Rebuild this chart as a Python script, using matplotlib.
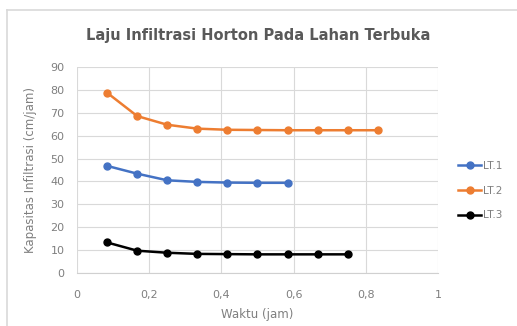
import numpy as np
import matplotlib.pyplot as plt
from matplotlib.ticker import FuncFormatter

# waktu (jam) dan kapasitas infiltrasi (cm/jam) tiap titik uji
waktu = [1/12, 2/12, 3/12, 4/12, 5/12, 6/12, 7/12, 8/12, 9/12, 10/12]
lt1 = [46.8, 43.4, 40.5, 39.8, 39.5, 39.4, 39.4]
lt2 = [78.8, 68.6, 64.8, 63.1, 62.6, 62.5, 62.4, 62.4, 62.4, 62.4]
lt3 = [13.3, 9.7, 8.8, 8.3, 8.2, 8.1, 8.1, 8.1, 8.1]
labels = ['LT.1', 'LT.2', 'LT.3']

fig = plt.figure(figsize=(5.17, 3.26), dpi=100)
ax = fig.add_axes([0.149, 0.163, 0.698, 0.631])

txt_col = '#7f7f7f'
ax.plot(waktu[:len(lt1)], lt1, color='#4472C4', marker='o', ms=5, lw=1.8, label=labels[0])
ax.plot(waktu[:len(lt2)], lt2, color='#ED7D31', marker='o', ms=5, lw=1.8, label=labels[1])
ax.plot(waktu[:len(lt3)], lt3, color='#000000', marker='o', ms=5, lw=1.8, label=labels[2])

ax.set_xlim(0, 1)
ax.set_ylim(0, 90)
ax.set_xticks(np.arange(0, 1.01, 0.2))
ax.set_yticks(np.arange(0, 91, 10))
ax.xaxis.set_major_formatter(FuncFormatter(lambda v, p: ('%g' % round(v, 1)).replace('.', ',')))
ax.grid(True, color='#d9d9d9', lw=0.8)
ax.set_axisbelow(True)
for s in ax.spines.values():
    s.set_visible(False)
ax.spines['bottom'].set_visible(True)
ax.spines['bottom'].set_color('#d0d0d0')
ax.tick_params(length=0, labelsize=8, colors=txt_col)
ax.tick_params(axis='x', pad=12)
ax.tick_params(axis='y', pad=9)

ax.set_xlabel('Waktu (jam)', fontsize=8.5, color=txt_col, labelpad=6)
ax.set_ylabel('Kapasitas Infiltrasi (cm/jam)', fontsize=8.5, color=txt_col, labelpad=10)
fig.text(0.5, 0.89, 'Laju Infiltrasi Horton Pada Lahan Terbuka', ha='center', va='center',
         fontsize=10.5, color='#595959', fontweight='bold')

ax.legend(loc='center left', bbox_to_anchor=(1.03, 0.40), frameon=False, fontsize=7.5,
          labelcolor=txt_col, handlelength=2.2, handletextpad=0.2, labelspacing=1.4)

# garis tepi atas dan kiri bagan
fig.add_artist(plt.Line2D([0.013, 1.0], [0.968, 0.968], transform=fig.transFigure,
                          color='#d9d9d9', lw=1.2))
fig.add_artist(plt.Line2D([0.013, 0.013], [0.0, 0.968], transform=fig.transFigure,
                          color='#d9d9d9', lw=1.2))

fig.savefig('out.png', dpi=100)
